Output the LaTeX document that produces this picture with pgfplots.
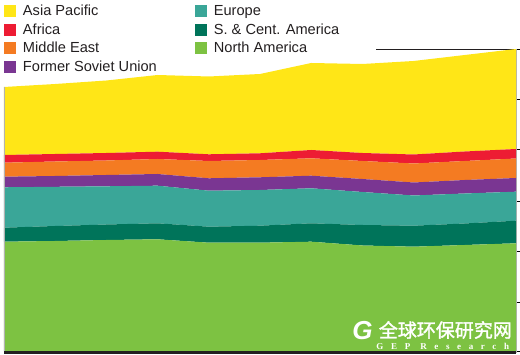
\documentclass[border=0pt]{standalone}
\usepackage{fontspec}
\setmainfont{Liberation Sans}
\newfontfamily\cjk[FakeBold=1.6]{Noto Sans CJK SC}
\newfontfamily\gepfont[LetterSpace=85]{Liberation Serif}
\usepackage{pgfplots}
\usepackage{pgfplotstable}
\pgfplotsset{compat=1.18}
\definecolor{apc}{HTML}{FFE617}
\definecolor{afc}{HTML}{ED1C33}
\definecolor{mec}{HTML}{F47B22}
\definecolor{fsuc}{HTML}{7A3692}
\definecolor{euc}{HTML}{3AA698}
\definecolor{scc}{HTML}{00745A}
\definecolor{nac}{HTML}{7DC242}
\definecolor{axisdark}{HTML}{231F20}
\definecolor{textgray}{HTML}{231F20}
\pgfplotstableread{
x NA SC EU FSU ME AF AP
0 109.3 14.0 40.4 10.6 14.0 7.7 68.0
1 110.0 15.0 39.2 10.8 14.5 7.5 70.0
2 111.0 15.5 38.2 11.3 14.5 7.5 72.5
3 111.7 16.0 37.6 11.7 15.0 7.3 76.7
4 108.3 16.0 36.0 12.4 17.3 6.7 77.8
5 108.3 17.0 35.7 12.7 17.3 6.7 79.3
6 109.3 18.4 35.0 12.6 17.4 8.3 87.0
7 105.5 20.5 33.0 13.0 18.0 8.0 89.0
8 104.3 21.0 30.2 13.0 19.0 9.0 93.5
9 106.0 21.5 30.0 13.5 19.0 9.5 96.5
10 107.7 22.6 29.0 13.7 19.5 9.5 100.0
}\datatable
\begin{document}
\begin{tikzpicture}
\useasboundingbox (-4pt,-2pt) rectangle (516pt,353pt);
\begin{axis}[
  scale only axis, width=512pt, height=304pt,
  xmin=0, xmax=10, ymin=-2, ymax=302,
  stack plots=y,
  axis x line*=bottom, axis y line*=right,
  xtick=\empty,
  ytick={0,49,100,150,202,252,302}, yticklabels={},
  tick align=outside, major tick length=4pt,
  ytick style={black, line width=0.8pt},
  x axis line style={draw=axisdark, line width=3pt, -},
  y axis line style={draw=gray!60, line width=0.5pt, -},
  clip=false,
  legend columns=2,
  legend style={at={(0,1)}, anchor=north west, yshift=46pt,
    draw=none, fill=none, inner sep=0pt, outer sep=0pt,
    font=\fontsize{14.6}{17}\selectfont, text=textgray,
    row sep=2.9pt,
    cells={anchor=west},
    nodes={inner sep=0pt, text height=12.7pt, text depth=3pt},
    /tikz/every odd column/.append style={column sep=7.6pt},
    /tikz/every even column/.append style={column sep=38pt}},
]
\addplot[fill=nac, draw=none, forget plot] table[x=x, y=NA] {\datatable} \closedcycle;
\addplot[fill=scc, draw=none, forget plot] table[x=x, y=SC] {\datatable} \closedcycle;
\addplot[fill=euc, draw=none, forget plot] table[x=x, y=EU] {\datatable} \closedcycle;
\addplot[fill=fsuc, draw=none, forget plot] table[x=x, y=FSU] {\datatable} \closedcycle;
\addplot[fill=mec, draw=none, forget plot] table[x=x, y=ME] {\datatable} \closedcycle;
\addplot[fill=afc, draw=none, forget plot] table[x=x, y=AF] {\datatable} \closedcycle;
\addplot[fill=apc, draw=none, forget plot] table[x=x, y=AP] {\datatable} \closedcycle;

\addlegendimage{legend image code/.code={\fill[apc] (0pt,-5.5pt) rectangle (11pt,5.5pt);}}
\addlegendentry{Asia Pacific}
\addlegendimage{legend image code/.code={\fill[euc] (0pt,-5.5pt) rectangle (11pt,5.5pt);}}
\addlegendentry{Europe}
\addlegendimage{legend image code/.code={\fill[afc] (0pt,-5.5pt) rectangle (11pt,5.5pt);}}
\addlegendentry{Africa}
\addlegendimage{legend image code/.code={\fill[scc] (0pt,-5.5pt) rectangle (11pt,5.5pt);}}
\addlegendentry{S. \& Cent. America}
\addlegendimage{legend image code/.code={\fill[mec] (0pt,-5.5pt) rectangle (11pt,5.5pt);}}
\addlegendentry{Middle East}
\addlegendimage{legend image code/.code={\fill[nac] (0pt,-5.5pt) rectangle (11pt,5.5pt);}}
\addlegendentry{North America}
\addlegendimage{legend image code/.code={\fill[fsuc] (0pt,-5.5pt) rectangle (11pt,5.5pt);}}
\addlegendentry{Former Soviet Union}

\draw[axisdark, line width=0.8pt] (axis cs:7.27,302) -- (axis cs:10,302);
\coordinate (cjkpos) at (axis cs:8.62,21);
\coordinate (geppos) at (axis cs:8.57,4.5);
\coordinate (gpos) at (axis cs:7.0,20);
\coordinate (lb) at (axis cs:0,0);
\coordinate (lt) at (axis cs:0,264);
\end{axis}
\draw[gray!60, line width=0.6pt] (lb) -- (lt);
\node[text=white, font=\cjk\fontsize{19}{19}\selectfont] at (cjkpos) {全球环保研究网};
\node[text=white, inner sep=0pt, font=\gepfont\bfseries\fontsize{9}{9}\selectfont] at (geppos) {GEP\hspace{10pt}Research};
\node[text=white, inner sep=0pt, font=\bfseries\itshape\fontsize{26}{26}\selectfont] at (gpos) {G};
\end{tikzpicture}
\end{document}
